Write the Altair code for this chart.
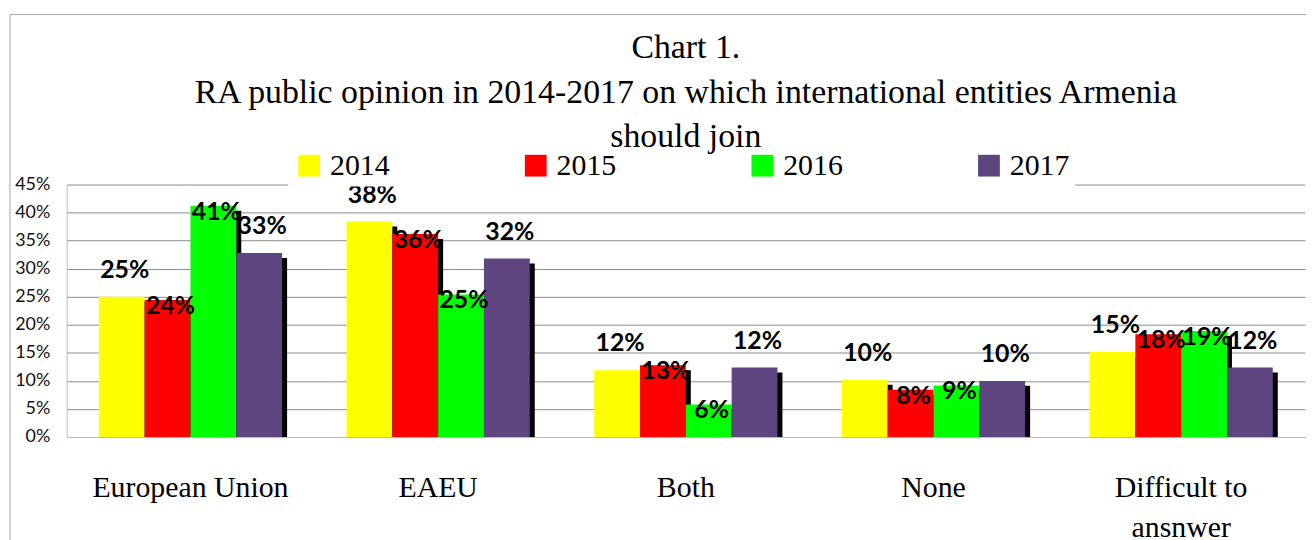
import altair as alt
import pandas as pd

categories = ["European Union", "EAEU", "Both", "None", "Difficult to ansnwer"]
years = ["2014", "2015", "2016", "2017"]
v2014 = [25.0, 38.4, 11.9, 10.2, 15.2]
v2015 = [24.4, 36.2, 12.8, 8.4, 18.3]
v2016 = [41.2, 25.4, 5.8, 9.2, 18.9]
v2017 = [32.8, 31.8, 12.4, 10.0, 12.4]
colors = ["#FFFF00", "#FF0000", "#00FF00", "#5E4580"]
y_ticks = [0, 5, 10, 15, 20, 25, 30, 35, 40, 45]
title_lines = ["Chart 1.",
               "RA public opinion in 2014-2017 on which international entities Armenia",
               "should join"]

rows = []
for yr, vals in zip(years, [v2014, v2015, v2016, v2017]):
    for c, v in zip(categories, vals):
        rows.append({"category": c, "year": yr, "value": v})
df = pd.DataFrame(rows)

W, H = 1246, 254
SERIF = "Liberation Serif"
BAND = W / 5 * 0.74  # group width inside each category band

x_enc = alt.X(
    "category:N", sort=categories,
    scale=alt.Scale(paddingInner=0.26, paddingOuter=0.13),
    axis=alt.Axis(title=None, labelAngle=0, labelFont=SERIF, labelFontSize=30,
                  labelColor="black", labelPadding=36, ticks=False, labelLimit=0,
                  domainColor="#bbbbbb", labelLineHeight=40,
                  labelExpr="datum.label == 'Difficult to ansnwer' ? ['Difficult to', 'ansnwer'] : datum.label"),
)
xo_enc = alt.XOffset("year:N", sort=years,
                     scale=alt.Scale(type="band", domain=years, paddingInner=0, paddingOuter=0))
xo_shadow = alt.XOffset("year:N", sort=years,
                        scale=alt.Scale(type="band", domain=years, paddingInner=0, paddingOuter=0,
                                        range=[5, BAND + 5]))
y_enc = alt.Y(
    "value:Q", scale=alt.Scale(domain=[0, 45], nice=False),
    axis=alt.Axis(values=y_ticks, labelExpr="datum.value + '%'", title=None, grid=True,
                  gridColor="#8c8c8c", ticks=False, domainColor="#bbbbbb",
                  labelFont="Lato", labelFontSize=18, labelPadding=17, labelColor="#111111"),
)

base = alt.Chart(df)

shadow = base.mark_bar(color="black", yOffset=5, clip=True).encode(
    x=x_enc, xOffset=xo_shadow, y=y_enc)

bars = base.mark_bar().encode(
    x=x_enc, xOffset=xo_enc, y=y_enc,
    color=alt.Color("year:N", scale=alt.Scale(domain=years, range=colors),
                    legend=alt.Legend(title=None, orient="none", direction="horizontal",
                                      legendX=223, legendY=-40, symbolType="square",
                                      symbolSize=480, symbolStrokeWidth=0, labelFont=SERIF,
                                      labelFontSize=30, labelColor="black", labelOffset=6,
                                      columnPadding=132, fillColor="white", padding=6)),
)

text_common = dict(font="Lato", fontWeight="bold", fontSize=25, color="black", baseline="middle", dx=3)
lab = base.transform_calculate(label="format(datum.value, '.0f') + '%'")
labels_out = lab.transform_filter("datum.year == '2014' || datum.year == '2017'").mark_text(
    dy=-27, **text_common).encode(x=x_enc, xOffset=xo_enc, y=y_enc, text="label:N")
labels_in = lab.transform_filter("datum.year == '2015' || datum.year == '2016'").mark_text(
    dy=6, **text_common).encode(x=x_enc, xOffset=xo_enc, y=y_enc, text="label:N")

frame = alt.Chart(pd.DataFrame({"f": [0]})).mark_rect(filled=False, stroke="#a6a6a6", strokeWidth=1).encode(
    x=alt.value(-57), x2=alt.value(1300), y=alt.value(-171), y2=alt.value(700))

chart = alt.layer(frame, shadow, bars, labels_out, labels_in).resolve_scale(
    xOffset="independent"
).properties(
    width=W, height=H,
    title=alt.TitleParams(text=title_lines, font=SERIF, fontSize=34, fontWeight=500,
                          lineHeight=45, anchor="middle", offset=-141, color="black"),
    autosize=alt.AutoSizeParams(type="none"),
    padding={"left": 59, "top": 176, "right": 1, "bottom": 102},
).configure_view(strokeWidth=0)

chart.save("out.html", embed_options={"renderer": "svg", "actions": False})
